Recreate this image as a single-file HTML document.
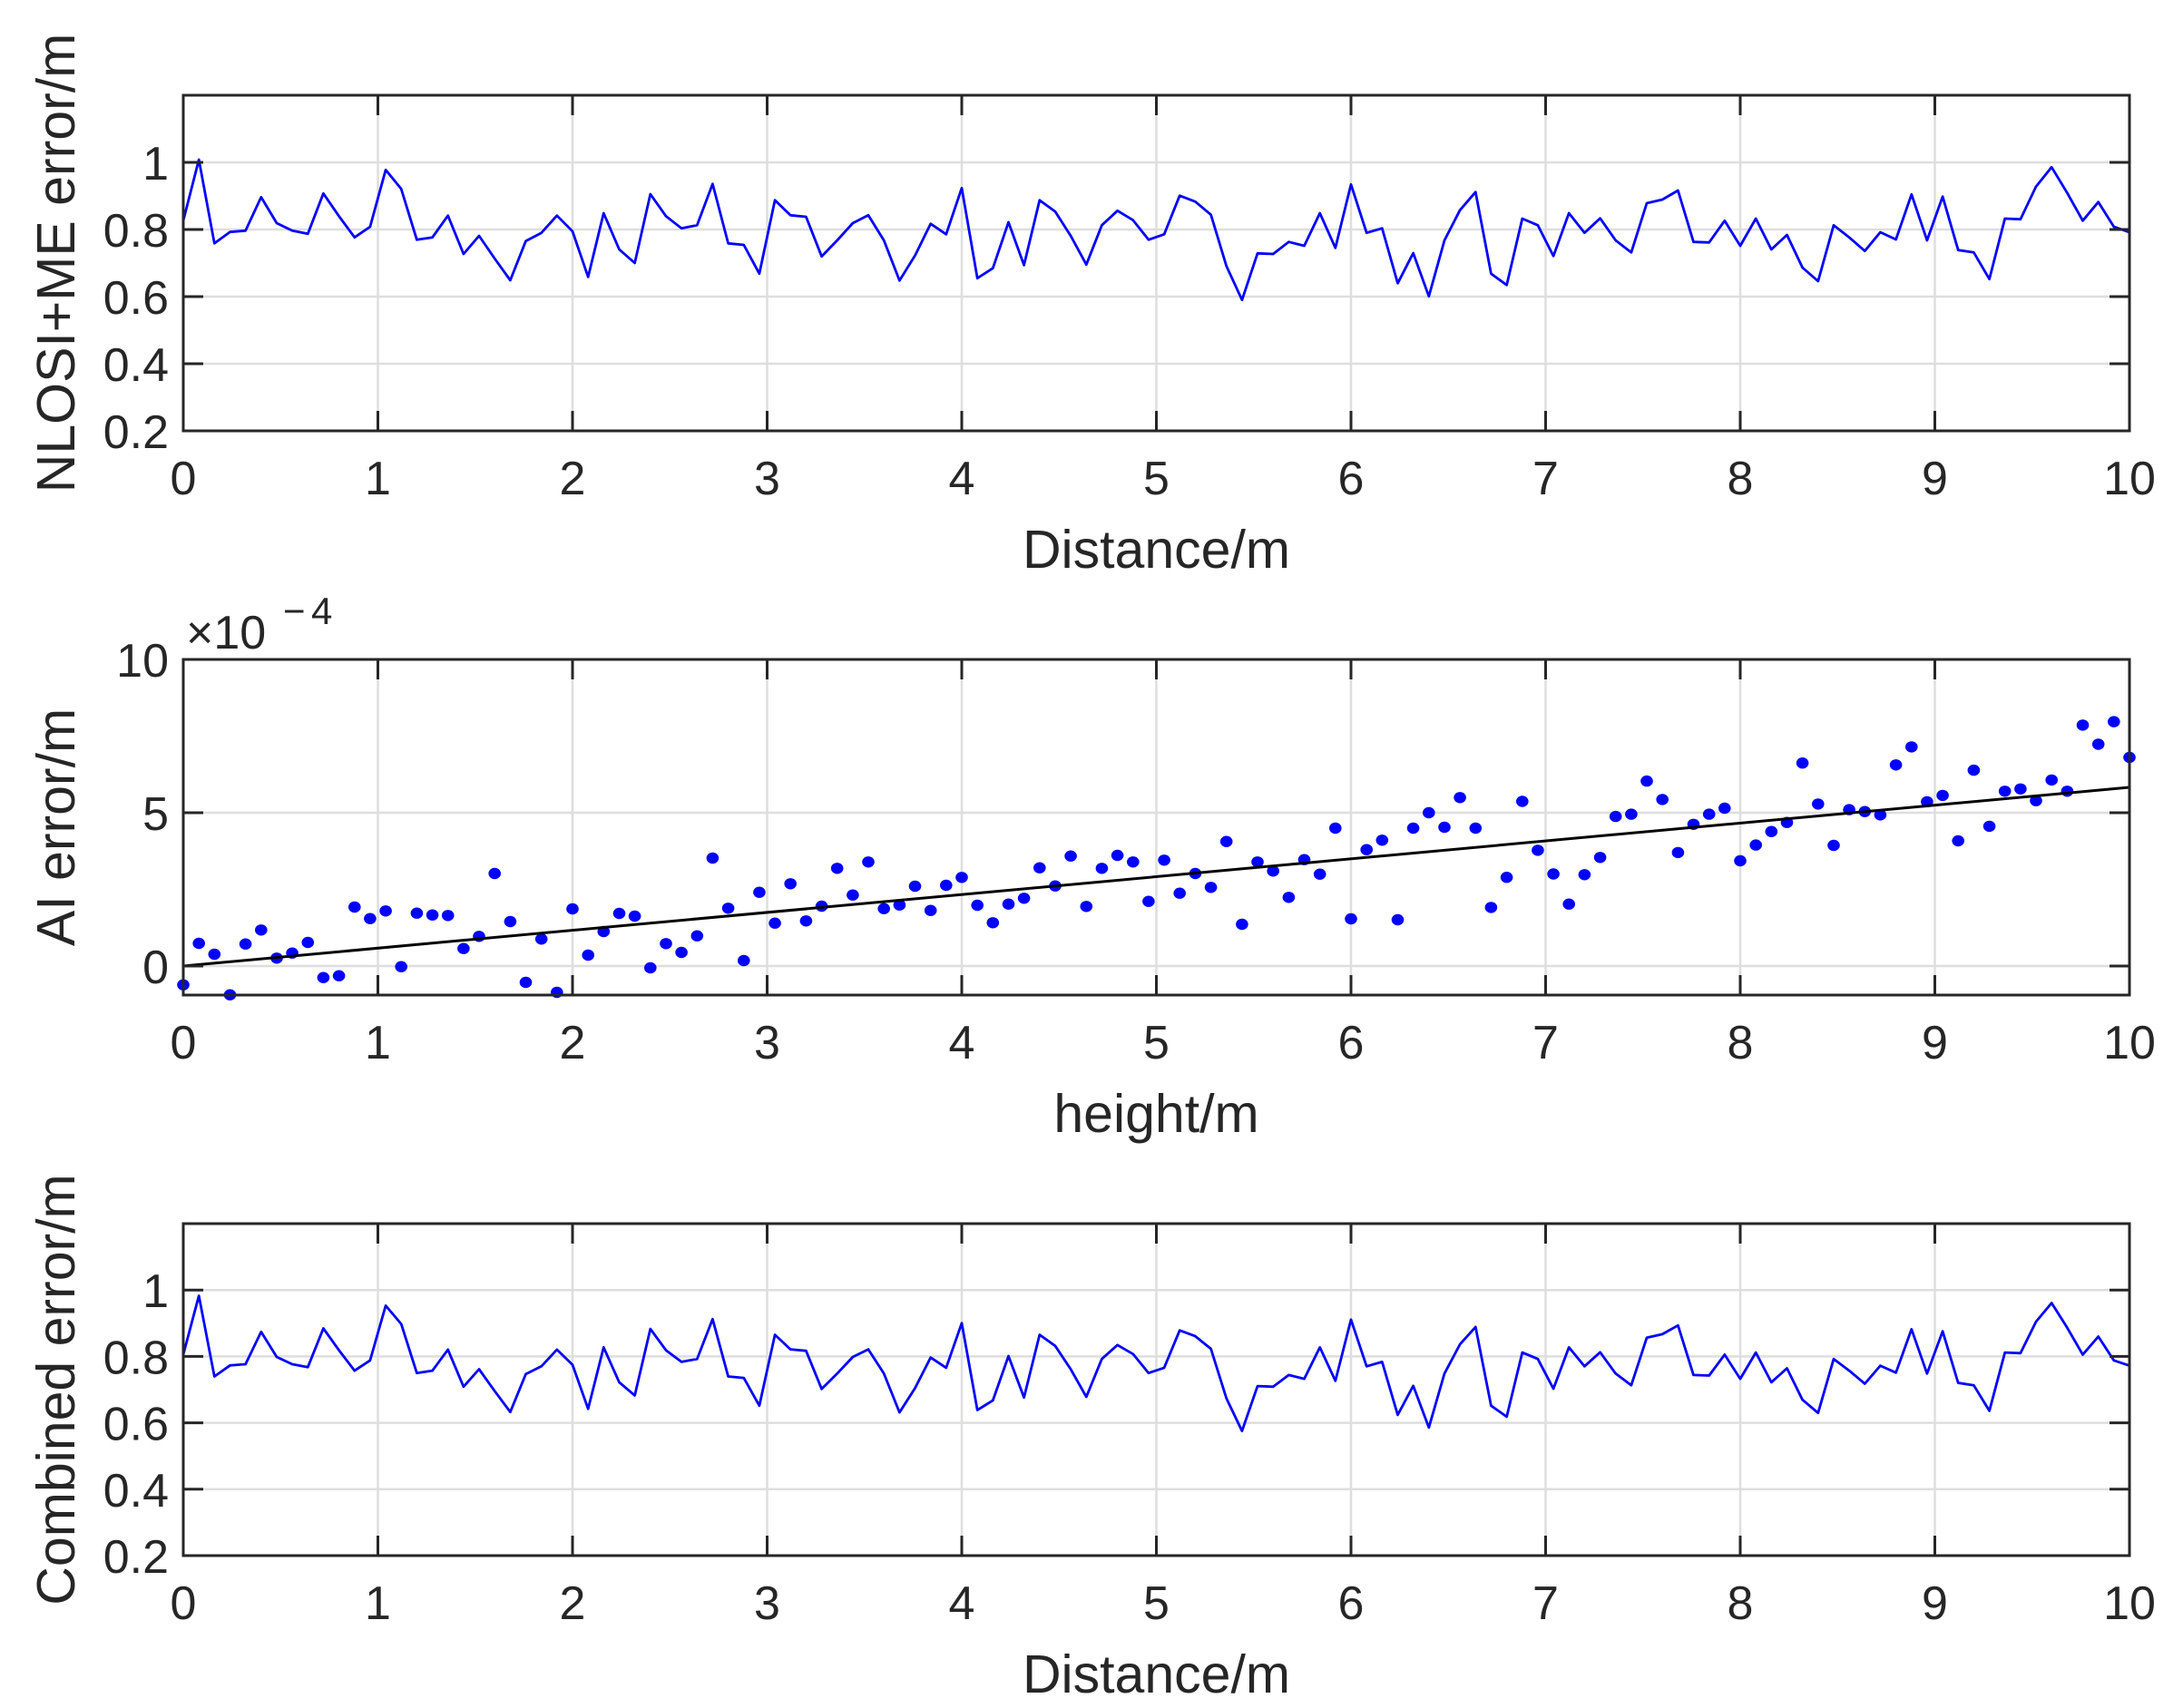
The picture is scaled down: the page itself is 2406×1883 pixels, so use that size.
<!DOCTYPE html>
<html><head><meta charset="utf-8"><style>
html,body{margin:0;padding:0;background:#fff;}
svg{display:block;font-family:"Liberation Sans",Arial,sans-serif;}
</style></head><body>
<svg id="s" width="2406" height="1883" viewBox="0 0 2406 1883" xmlns="http://www.w3.org/2000/svg"></svg>
<script>
const L=202,R=2347,W=R-L;
const xi=i=>L+i*W/125;
const xt=k=>L+k*W/10;
// top line orig y values
const z3=[280,78,355,317,313,202,288,313,323,190,265,335,300,112,175,343,335,263,390,330,405,477,347,320,263,315,466,255,375,420,192,265,305,295,158,355,360,455,212,262,267,398];
const z4=[345,288,262,345,478,395,290,325,172,470,437,285,427,212,250,330,425,295,247,278,343,325,197,217,260,430,542,388,390,350,363,255,370,160,320,305,487,387,530,345,245,185];
const z5=[455,493,273,295,397,255,320,272,345,385,222,210,180,350,352,280,363,273,375,327,435,480,295,335,380,318,342,193,345,200,377,385,473,273,275,167,103,188,280,218,300,318];
const ty=[...z3,...z4,...z5].map(p=>150+p/3);
const vals=ty.map(y=>1.2-(y-105)/370);
// scatter
const s6=[737,600,636,770,602,556,649,632,597,713,707,480,518,493,677,500,506,508,617,577,369,528,729,586,762,486,639,561,501,510,681,601,630,575,318,484,657,431,533,403,526,477];
const s7=[352,440,331,485,473,411,491,408,382,474,532,470,451,350,410,311,478,352,309,331,461,325,434,369,415,263,537,331,361,448,323,371,219,519,290,259,522,219,168,216,118,219];
const s2=[966,886,684,814,877,957,879,833,724,718,630,679,820,745,718,702,842,800,764,740,582,691,801,706,711,720,587,539,685,668,789,601,750,657,651,682,627,657,481,532,472,567];
const sy=[...s6.map(p=>840+p/3),...s7.map(p=>840+p/3),...s2.map(p=>600+p*0.4145)];
let h='';
const C='#262626';
function axes(top,bot,yt,labels,xl,xlab,ylab,series){
  // grid
  for(let k=1;k<10;k++)h+=`<line x1="${xt(k)}" y1="${top}" x2="${xt(k)}" y2="${bot}" stroke="#dedede" stroke-width="2.5"/>`;
  yt.forEach(y=>{if(y>top+2&&y<bot-2)h+=`<line x1="${L}" y1="${y}" x2="${R}" y2="${y}" stroke="#dedede" stroke-width="2.5"/>`;});
  h+=series;
  // ticks
  for(let k=0;k<=10;k++){const x=xt(k);h+=`<line x1="${x}" y1="${bot}" x2="${x}" y2="${bot-22}" stroke="${C}" stroke-width="3"/><line x1="${x}" y1="${top}" x2="${x}" y2="${top+22}" stroke="${C}" stroke-width="3"/>`;
    h+=`<text x="${x}" y="${bot+70}" font-size="52" text-anchor="middle" fill="${C}">${k}</text>`;}
  yt.forEach((y,j)=>{h+=`<line x1="${L}" y1="${y}" x2="${L+22}" y2="${y}" stroke="${C}" stroke-width="3"/><line x1="${R}" y1="${y}" x2="${R-22}" y2="${y}" stroke="${C}" stroke-width="3"/>`;
    h+=`<text x="186" y="${y+19}" font-size="52" text-anchor="end" fill="${C}">${labels[j]}</text>`;});
  h+=`<rect x="${L}" y="${top}" width="${W}" height="${bot-top}" fill="none" stroke="${C}" stroke-width="3"/>`;
  h+=`<text x="${(L+R)/2}" y="${bot+151}" font-size="59" text-anchor="middle" fill="${C}">${xlab}</text>`;
  const cy=(top+bot)/2;
  h+=`<text transform="translate(82,${cy}) rotate(-90)" font-size="59" text-anchor="middle" fill="${C}">${ylab}</text>`;
}
// plot1
let p1='<polyline fill="none" stroke="#0000ff" stroke-width="2.8" stroke-linejoin="round" points="'+vals.map((v,i)=>xi(i).toFixed(1)+','+(105+(1.2-v)*370).toFixed(1)).join(' ')+'"/>';
axes(105,475,[179,253,327,401,475],['1','0.8','0.6','0.4','0.2'],0,'Distance/m','NLOSI+ME error/m',p1);
// plot2
let p2='';
sy.forEach((y,i)=>{p2+=`<ellipse cx="${xi(i).toFixed(1)}" cy="${y.toFixed(1)}" rx="6.8" ry="6.2" fill="#0000ff"/>`;});
p2+=`<line x1="${L}" y1="1065" x2="${R}" y2="868" stroke="#000" stroke-width="3"/>`;
axes(727,1097,[727,896,1065],['10','5','0'],0,'height/m','AI error/m',p2);
h+=`<text x="205" y="715" font-size="52" fill="${C}">×10</text><text x="312" y="688" font-size="42" fill="${C}">−</text><text x="343" y="688" font-size="42" fill="${C}">4</text>`;
// plot3
const t3=1349,b3=1715,hh=b3-t3;
let p3='<polyline fill="none" stroke="#0000ff" stroke-width="2.8" stroke-linejoin="round" points="'+vals.map((v,i)=>xi(i).toFixed(1)+','+(t3+(1.2-v*0.975)*hh).toFixed(1)).join(' ')+'"/>';
axes(t3,b3,[1.0,0.8,0.6,0.4,0.2].map(v=>t3+(1.2-v)*hh),['1','0.8','0.6','0.4','0.2'],0,'Distance/m','Combined error/m',p3);
document.getElementById('s').innerHTML=h;
</script>
</body></html>
